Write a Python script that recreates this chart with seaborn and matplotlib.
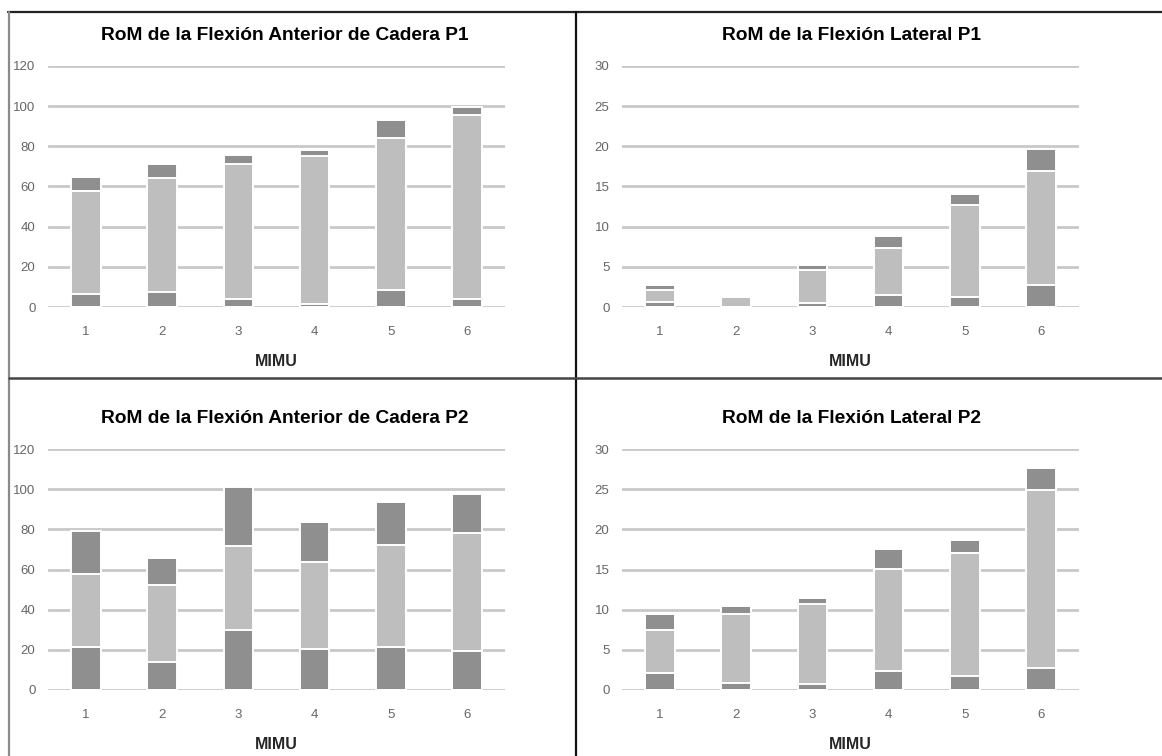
#!/usr/bin/env python3

import numpy as np
import pandas as pd
import seaborn as sns
import matplotlib
matplotlib.use("Agg")
import matplotlib.pyplot as plt
from matplotlib.lines import Line2D

mimu = ["1", "2", "3", "4", "5", "6"]

# segment heights per bar: bottom (dark), middle (light), top (dark)
ant_p1_bottom = [6.3, 7.3, 4.1, 1.7, 8.6, 4.1]
ant_p1_mid = [51.7, 56.7, 67.2, 73.4, 75.6, 91.3]
ant_p1_top = [6.7, 7.0, 4.5, 3.0, 8.7, 4.4]

lat_p1_bottom = [0.6, 0.0, 0.5, 1.5, 1.3, 2.7]
lat_p1_mid = [1.5, 1.3, 4.1, 5.9, 11.4, 14.2]
lat_p1_top = [0.7, 0.0, 0.6, 1.4, 1.4, 2.8]

ant_p2_bottom = [21.4, 14.0, 29.7, 20.6, 21.4, 19.4]
ant_p2_mid = [36.3, 38.4, 42.0, 43.3, 50.8, 58.9]
ant_p2_top = [21.4, 13.5, 29.6, 19.8, 21.4, 19.4]

lat_p2_bottom = [2.1, 0.9, 0.8, 2.4, 1.7, 2.7]
lat_p2_mid = [5.4, 8.5, 9.9, 12.7, 15.4, 22.2]
lat_p2_top = [2.0, 1.1, 0.8, 2.4, 1.6, 2.7]

DARK = "#8f8f8f"
LIGHT = "#bebebe"
GRID = "#c9c9c9"
TICK = "#666666"


def configure_seaborn():
  sns.set_style("white")
  plt.rcParams['font.family'] = ['Liberation Sans', 'DejaVu Sans']


def plot_panel(ax, bottom, mid, top, ymax, ystep):
  df = pd.DataFrame({"mimu": mimu, "bottom": bottom, "mid": mid, "top": top})
  df["c1"] = df["bottom"]
  df["c2"] = df["bottom"] + df["mid"]
  df["c3"] = df["c2"] + df["top"]

  # classic stacked look: draw totals first, then overlay the lower cumulatives
  for col, color in [("c3", DARK), ("c2", LIGHT), ("c1", DARK)]:
    sns.barplot(data=df, x="mimu", y=col, color=color, width=0.39,
                edgecolor="white", linewidth=1.4, saturation=1, ax=ax, zorder=3)

  ax.set_xlim(-0.5, 5.5)
  ax.set_ylim(0, ymax)
  ax.set_yticks(np.arange(0, ymax + 1, ystep))
  ax.yaxis.grid(True, color=GRID, linewidth=2)
  ax.set_axisbelow(True)
  sns.despine(ax=ax, left=True, bottom=True)
  ax.tick_params(axis="both", length=0, labelsize=9.5, labelcolor=TICK)
  ax.tick_params(axis="y", pad=9)
  ax.tick_params(axis="x", pad=14)
  ax.set_ylabel("")
  ax.set_xlabel("MIMU", fontsize=11.5, fontweight="bold", labelpad=11)


def main():
  configure_seaborn()
  fig = plt.figure(figsize=(11.62, 7.56), dpi=100)

  panels = [
    ("RoM de la Flexión Anterior de Cadera P1", ant_p1_bottom, ant_p1_mid, ant_p1_top, 120, 20, 48, 307, 285),
    ("RoM de la Flexión Lateral P1", lat_p1_bottom, lat_p1_mid, lat_p1_top, 30, 5, 622, 307, 851),
    ("RoM de la Flexión Anterior de Cadera P2", ant_p2_bottom, ant_p2_mid, ant_p2_top, 120, 20, 48, 690, 285),
    ("RoM de la Flexión Lateral P2", lat_p2_bottom, lat_p2_mid, lat_p2_top, 30, 5, 622, 690, 851),
  ]
  W, H = 1162, 756
  for title, b, m, t, ymax, ystep, x0, y0, tx in panels:
    ax = fig.add_axes([x0 / W, 1 - y0 / H, 457 / W, 241 / H])
    plot_panel(ax, b, m, t, ymax, ystep)
    fig.text(tx / W, 1 - (y0 - 271) / H, title, ha="center", va="center",
             fontsize=13.8, fontweight="bold", color="black")

  # frame lines of the original composite
  fig.add_artist(Line2D([8 / W, 1], [1 - 12 / H, 1 - 12 / H], color="#222222", linewidth=1.6))
  fig.add_artist(Line2D([9 / W, 9 / W], [0, 1 - 12 / H], color="#8a8a8a", linewidth=1.6))
  fig.add_artist(Line2D([576 / W, 576 / W], [0, 1 - 12 / H], color="#111111", linewidth=1.6))
  fig.add_artist(Line2D([9 / W, 1], [1 - 378 / H, 1 - 378 / H], color="#444444", linewidth=1.8))

  fig.savefig("out.png", dpi=100)
  plt.close(fig)


if __name__ == '__main__':
  main()
